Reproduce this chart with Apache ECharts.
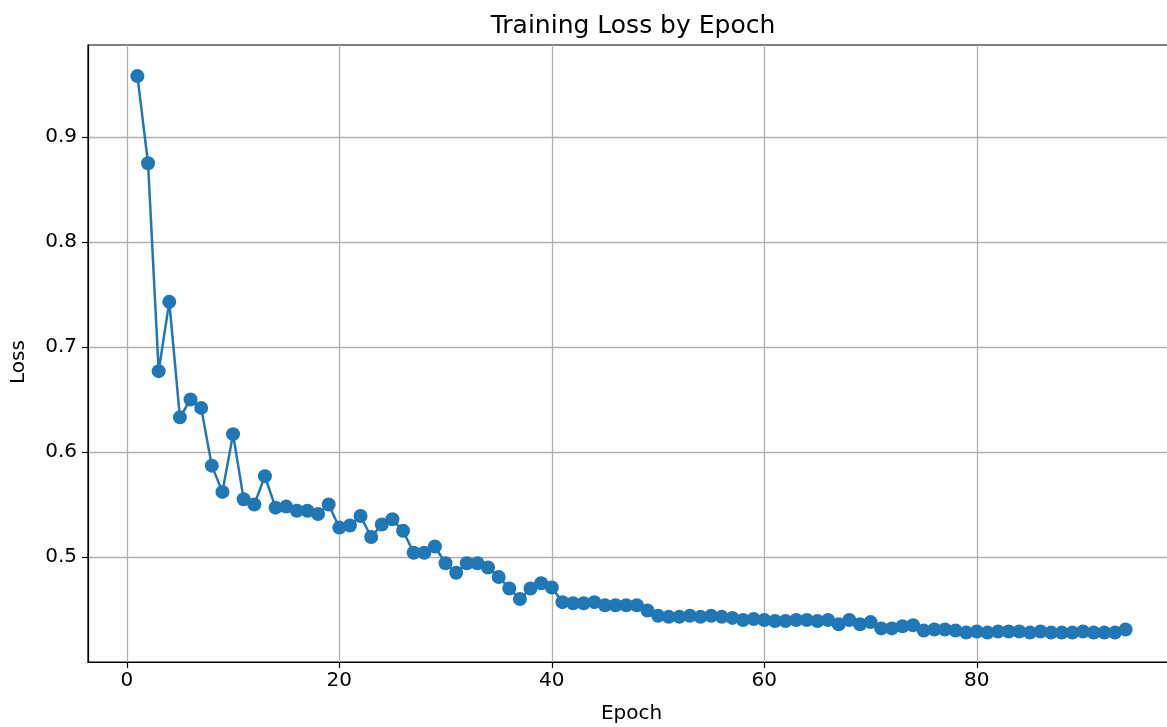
<!DOCTYPE html>
<html>
<head>
<meta charset="utf-8">
<script src="https://cdn.jsdelivr.net/npm/echarts@6/dist/echarts.min.js"></script>
<style>
html,body{margin:0;padding:0;background:#fff;overflow:hidden;}
#chart{width:1167px;height:727px;}
</style>
</head>
<body>
<div id="chart"></div>
<script>
const epochs = Array.from({length: 94}, (_, i) => i + 1);
const loss = [
  0.958, 0.875, 0.677, 0.743, 0.633, 0.650, 0.642, 0.587, 0.562, 0.617,
  0.555, 0.550, 0.577, 0.547, 0.548, 0.544, 0.544, 0.541, 0.550, 0.528,
  0.530, 0.539, 0.519, 0.531, 0.536, 0.525, 0.504, 0.504, 0.510, 0.494,
  0.485, 0.494, 0.494, 0.490, 0.481, 0.470, 0.460, 0.470, 0.475, 0.471,
  0.457, 0.456, 0.456, 0.457, 0.454, 0.454, 0.454, 0.454, 0.449, 0.444,
  0.443, 0.443, 0.444, 0.443, 0.444, 0.443, 0.442, 0.440, 0.441, 0.440,
  0.439, 0.439, 0.440, 0.440, 0.439, 0.440, 0.436, 0.440, 0.436, 0.438,
  0.432, 0.432, 0.434, 0.435, 0.430, 0.431, 0.431, 0.430, 0.428, 0.429,
  0.428, 0.429, 0.429, 0.429, 0.428, 0.429, 0.428, 0.428, 0.428, 0.429,
  0.428, 0.428, 0.428, 0.431
];
const xTicks = [0, 20, 40, 60, 80];
const yTicks = [0.5, 0.6, 0.7, 0.8, 0.9];

const font = 'DejaVu Sans';
const xMin = -3.65, xMax = 98.65;
const yMin = 0.4, yMax = 0.9876;

const isTick = (v, list) => list.some(t => Math.abs(t - v) < 1e-6);

const chart = echarts.init(document.getElementById('chart'), null, {renderer: 'canvas', width: 1167, height: 727});
chart.setOption({
  animation: false,
  backgroundColor: '#ffffff',
  title: {
    text: 'Training Loss by Epoch',
    left: 628, top: 9, textAlign: 'center',
    textStyle: {fontFamily: font, fontSize: 25, fontWeight: 'normal', color: '#000'}
  },
  graphic: [{
    type: 'text',
    x: 19, y: 362, rotation: Math.PI / 2,
    style: {text: 'Loss', fontFamily: font, fontSize: 20, fill: '#000',
      textAlign: 'center', textVerticalAlign: 'middle'}
  }],
  grid: {
    left: 88, top: 45, width: 1087, height: 617,
    outerBoundsMode: 'none', containLabel: false,
    show: true, borderColor: '#000', borderWidth: 1.2, backgroundColor: 'transparent'
  },
  xAxis: {
    type: 'value', min: xMin, max: xMax, interval: 20,
    name: 'Epoch', nameLocation: 'middle', nameGap: 42,
    nameTextStyle: {fontFamily: font, fontSize: 20, color: '#000'},
    axisLine: {show: true, onZero: false, lineStyle: {color: '#000', width: 1.2}},
    axisTick: {show: true, length: 6, lineStyle: {color: '#000', width: 1.2},
      customValues: xTicks},
    axisLabel: {fontFamily: font, fontSize: 20, color: '#000', margin: 9,
      customValues: xTicks,
      formatter: v => isTick(v, xTicks) ? String(v) : ''},
    splitLine: {show: true, lineStyle: {color: '#b0b0b0', width: 1.3}}
  },
  yAxis: {
    type: 'value', min: yMin, max: yMax, interval: 0.1,
    axisLine: {show: true, onZero: false, lineStyle: {color: '#000', width: 1.2}},
    axisTick: {show: true, length: 6, lineStyle: {color: '#000', width: 1.2},
      customValues: yTicks},
    axisLabel: {fontFamily: font, fontSize: 20, color: '#000', margin: 11,
      customValues: yTicks,
      formatter: v => isTick(v, yTicks) ? v.toFixed(1) : ''},
    splitLine: {show: true, lineStyle: {color: '#b0b0b0', width: 1.3}}
  },
  series: [{
    type: 'line',
    data: epochs.map((e, i) => [e, loss[i]]),
    symbol: 'circle', symbolSize: 14,
    itemStyle: {color: '#1f77b4', borderWidth: 0},
    lineStyle: {color: '#1f77b4', width: 2.5},
    clip: false
  }]
});
</script>
</body>
</html>
